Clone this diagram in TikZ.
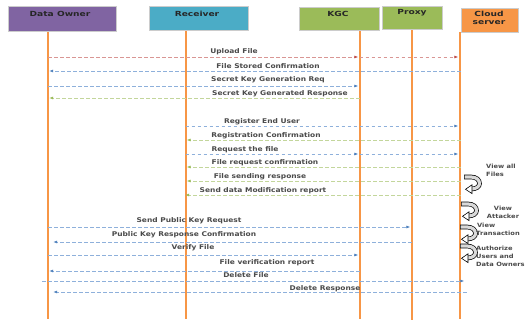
\documentclass[tikz,border=0pt]{standalone}
\usepackage{fontspec}
\setmainfont{DejaVu Sans}
\newfontfamily\lblfont[FakeStretch=1.3]{DejaVu Sans}
\newfontfamily\lblbold[FakeStretch=1.15]{DejaVu Sans Bold}
\usetikzlibrary{arrows.meta}

\definecolor{doPurple}{HTML}{8064A2}
\definecolor{rcTeal}{HTML}{4BACC6}
\definecolor{kgGreen}{HTML}{9BBB59}
\definecolor{csOrange}{HTML}{F79646}
\definecolor{lifeOrange}{HTML}{F79646}
\definecolor{redLine}{HTML}{D99694}
\definecolor{redTip}{HTML}{C0504D}
\definecolor{blueLine}{HTML}{8EB0DB}
\definecolor{blueTip}{HTML}{4F81BD}
\definecolor{greenLine}{HTML}{C3D69B}
\definecolor{greenTip}{HTML}{9BBB59}
\definecolor{txtGray}{HTML}{4A4A4A}
\definecolor{turnFill}{HTML}{D9D9D9}

\tikzset{
  headbox/.style={draw=gray!40, line width=0.9pt, inner sep=0pt},
  headtxt/.style={font=\lblfont\bfseries\fontsize{7}{8}\selectfont, text=black!85, inner sep=0pt, align=center},
  lifeline/.style={draw=lifeOrange, line width=2pt},
  msg/.style={dash pattern=on 3.5pt off 2.5pt, line width=0.7pt, shorten >=1.2pt},
  redmsg/.style={msg, draw=redLine, -{Latex[length=4pt,width=3pt,color=redTip]}},
  bluemsg/.style={msg, draw=blueLine, -{Latex[length=4pt,width=3pt,color=blueTip]}},
  greenmsg/.style={msg, draw=greenLine, -{Latex[length=4pt,width=3pt,color=greenTip]}},
  lbl/.style={font=\lblbold\fontsize{6.5}{8}\selectfont, text=txtGray, inner sep=0pt},
  sidelbl/.style={font=\lblbold\fontsize{5.8}{8}\selectfont, text=txtGray, inner sep=0pt, align=left, anchor=west},
  selfturn/.pic={
    \draw[black, line width=4.6pt] (0,2) -- (7,2) .. controls (12.5,2) and (15.5,5) .. (15.5,8.5)
      .. controls (15.5,12) and (12,13.8) .. (7.5,14);
    \draw[turnFill, line width=3.2pt] (0.6,2) -- (7,2) .. controls (12.5,2) and (15.5,5) .. (15.5,8.5)
      .. controls (15.5,12) and (12,13.8) .. (7.5,14);
    \filldraw[fill=white, draw=black, line width=0.6pt] (8,9.8) -- (1.5,14.3) -- (8,18.6) -- cycle;
  }
}

\begin{document}
\begin{tikzpicture}[x=1pt,y=-1pt]
\useasboundingbox[fill=white] (0,0) rectangle (528,320);

% lifeline end points
\coordinate (doT) at (48,31);    \coordinate (doB) at (48,319);
\coordinate (rcT) at (185.5,30); \coordinate (rcB) at (185.5,319);
\coordinate (kgT) at (359.5,30); \coordinate (kgB) at (359.5,319);
\coordinate (pxT) at (411.5,29); \coordinate (pxB) at (411.5,320);
\coordinate (csT) at (459.5,32); \coordinate (csB) at (459.5,319);

\foreach \l in {do,rc,kg,px,cs}{\draw[lifeline] (\l T) -- (\l B);}

% participant headers
\node[headbox, fill=doPurple, minimum width=108pt, minimum height=25pt] (hdo) at (62,18.5) {};
\node[headtxt] (hdoT) at (60,13.5) {Data Owner};
\node[headbox, fill=rcTeal, minimum width=99pt, minimum height=24pt] (hrc) at (198.5,18) {};
\node[headtxt] (hrcT) at (197,13.5) {Receiver};
\node[headbox, fill=kgGreen, minimum width=80pt, minimum height=23pt] (hkg) at (339,18.5) {};
\node[headtxt] (hkgT) at (338,14) {KGC};
\node[headbox, fill=kgGreen, minimum width=60pt, minimum height=23pt] (hpx) at (412,17.5) {};
\node[headtxt] (hpxT) at (412,13) {Proxy};
\node[headbox, fill=csOrange, minimum width=57pt, minimum height=24pt] (hcs) at (489.5,20) {};
\node[headtxt] (hcsT) at (489,18) {Cloud\\server};

% messages
\draw[redmsg] (doT |- 0,57) -- (kgT |- 0,57);
\draw[redmsg] (kgT |- 0,57) -- (csT |- 0,57);
\node[lbl] (m1) at (234,52) {Upload File};

\draw[bluemsg] ([xshift=1pt]csT |- 0,71) -- (doT |- 0,71);
\node[lbl] (m2) at (268,66) {File Stored Confirmation};

\draw[bluemsg] (doT |- 0,86) -- (kgT |- 0,86);
\node[lbl] (m3) at (268,80) {Secret Key Generation Req};

\draw[greenmsg] (kgT |- 0,98) -- (doT |- 0,98);
\node[lbl] (m4) at (280,93.5) {Secret Key Generated Response};

\draw[bluemsg] (rcT |- 0,126) -- (csT |- 0,126);
\node[lbl] (m5) at (262,122) {Register End User};

\draw[greenmsg] ([xshift=1pt]csT |- 0,140) -- (rcT |- 0,140);
\node[lbl] (m6) at (266,136) {Registration Confirmation};

\draw[bluemsg] (rcT |- 0,154) -- (kgT |- 0,154);
\draw[bluemsg] (kgT |- 0,154) -- (csT |- 0,154);
\node[lbl] (m7) at (245,149.5) {Request the file};

\draw[greenmsg] ([xshift=1pt]csT |- 0,167) -- (rcT |- 0,167);
\node[lbl] (m8) at (265,163) {File request confirmation};

\draw[greenmsg] ([xshift=1pt]csT |- 0,181) -- (rcT |- 0,181);
\node[lbl] (m9) at (260,177) {File sending response};

\draw[greenmsg] ([xshift=1pt]csT |- 0,195) -- ([xshift=-1.5pt]rcT |- 0,195);
\node[lbl] (m10) at (263,191) {Send data Modification report};

\draw[bluemsg] (doT |- 0,227) -- (pxT |- 0,227);
\node[lbl] (m11) at (189,221) {Send Public Key Request};

\draw[bluemsg] (pxT |- 0,242) -- ([xshift=4pt]doT |- 0,242);
\node[lbl] (m12) at (184,234.5) {Public Key Response Confirmation};

\draw[bluemsg] (doT |- 0,255) -- (kgT |- 0,255);
\node[lbl] (m13) at (193,248) {Verify File};

\draw[bluemsg] (kgT |- 0,271) -- (doT |- 0,271);
\node[lbl] (m14) at (267,262.5) {File verification report};

\draw[bluemsg] ([xshift=-6pt]doT |- 0,281) -- ([xshift=6pt]csT |- 0,281);
\node[lbl] (m15) at (246,275.5) {Delete File};

\draw[bluemsg] ([xshift=7pt]csT |- 0,292) -- ([xshift=4pt]doT |- 0,292);
\node[lbl] (m16) at (325,288.5) {Delete Response};

% cloud server self actions
\pic at (464,175) {selfturn};
\node[sidelbl] (s1) at (486,170) {View all\\Files};
\pic at (461,202) {selfturn};
\node[sidelbl, align=center, anchor=center] (s2) at (503,212.5) {View\\Attacker};
\pic at (460,225) {selfturn};
\node[sidelbl] (s3) at (476,229) {\,View\\Transaction};
\pic at (460,244) {selfturn};
\node[sidelbl] (s4) at (476,256) {Authorize\\Users and\\Data Owners};
\end{tikzpicture}
\end{document}
